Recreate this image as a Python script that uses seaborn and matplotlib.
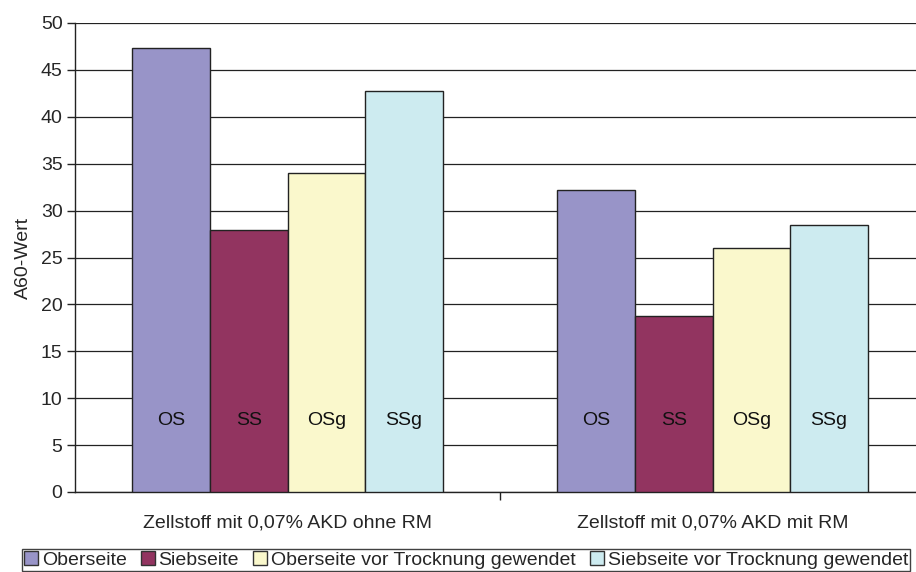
import matplotlib
matplotlib.use("Agg")
import matplotlib.pyplot as plt
import seaborn as sns
import pandas as pd
from matplotlib.patches import Patch

# Data
categories = ["Zellstoff mit 0,07% AKD ohne RM", "Zellstoff mit 0,07% AKD mit RM"]
series = ["Oberseite", "Siebseite", "Oberseite vor Trocknung gewendet",
          "Siebseite vor Trocknung gewendet"]
short_labels = ["OS", "SS", "OSg", "SSg"]
values = {
    "Oberseite": [47.3, 32.2],
    "Siebseite": [27.9, 18.8],
    "Oberseite vor Trocknung gewendet": [34.0, 26.0],
    "Siebseite vor Trocknung gewendet": [42.8, 28.5],
}
colors = ["#9894C8", "#923460", "#FAF8CC", "#CDEBF0"]

rows = []
for s in series:
    for c, v in zip(categories, values[s]):
        rows.append({"Kategorie": c, "Serie": s, "Wert": v})
df = pd.DataFrame(rows)

sns.set_theme(style="white")
plt.rcParams["font.family"] = ["Liberation Sans", "DejaVu Sans"]

FS = 14

fig = plt.figure(figsize=(9.16, 5.72), dpi=100)
ax = fig.add_axes([75 / 916, 1 - 492 / 572, 850 / 916, 469 / 572])

sns.barplot(data=df, x="Kategorie", y="Wert", hue="Serie", order=categories,
            hue_order=series, palette=colors, width=0.73, edgecolor="#222222",
            linewidth=1.0, saturation=1, legend=False, ax=ax, zorder=3)

ax.set_ylim(0, 50)
ax.set_xlim(-0.5, 1.5)
ax.set_yticks(range(0, 51, 5))
ax.yaxis.grid(True, color="#222222", linewidth=0.9, zorder=0)
ax.set_axisbelow(True)

for side in ["top", "right"]:
    ax.spines[side].set_visible(False)
for side in ["left", "bottom"]:
    ax.spines[side].set_color("#222222")
    ax.spines[side].set_linewidth(1.0)

ax.tick_params(axis="y", which="major", direction="out", length=6, width=1,
               color="#222222", labelsize=FS, pad=3, left=True)
ax.tick_params(axis="x", which="major", length=0, labelsize=FS, pad=16)
ax.set_xticks([0.5], minor=True)
ax.tick_params(axis="x", which="minor", direction="out", length=6, width=1,
               color="#222222", bottom=True)

ax.set_xlabel("")
ax.set_ylabel("A60-Wert", fontsize=FS, labelpad=6)

# Short labels inside the bars
for container, lab in zip(ax.containers, short_labels):
    for bar in container:
        ax.text(bar.get_x() + bar.get_width() / 2, 7.6, lab, ha="center",
                va="center", fontsize=FS, color="#111111", zorder=5)

handles = [Patch(facecolor=c, edgecolor="#333333", linewidth=1.0) for c in colors]
leg = fig.legend(handles, series, loc="lower left", ncol=4, fontsize=FS,
                 bbox_to_anchor=(22 / 916, 1 / 572),
                 frameon=True, fancybox=False, borderpad=0.1,
                 handlelength=0.72, handleheight=0.72, handletextpad=0.2,
                 columnspacing=0.72, borderaxespad=0)
leg.get_frame().set_edgecolor("#111111")
leg.get_frame().set_linewidth(1.0)

fig.savefig("out.png", dpi=100)
